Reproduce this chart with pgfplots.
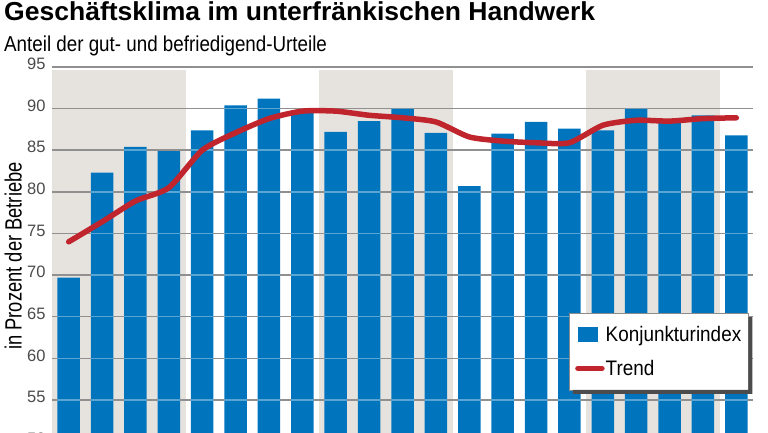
\documentclass[border=0pt]{standalone}
\usepackage{fontspec}
\setmainfont{Liberation Sans}
\usepackage{pgfplots}
\pgfplotsset{compat=1.18}

\definecolor{barblue}{RGB}{0,117,190}
\definecolor{trendred}{RGB}{192,36,44}
\definecolor{band}{RGB}{230,227,222}
\definecolor{gridgray}{RGB}{86,86,86}
\definecolor{ticktext}{RGB}{75,75,75}

% alle drei Achsen liegen genau uebereinander
\pgfplotsset{
  frame/.style={
    at={(52pt,-9.6pt)}, anchor=south west,
    scale only axis, width=701pt, height=374.6pt,
    xmin=0.5, xmax=21.5, ymin=50, ymax=95,
    axis line style={draw=none}, major tick length=0pt,
    xtick=\empty, ytick={50,55,...,95},
  },
}

\begin{document}
\begin{tikzpicture}
\useasboundingbox (0,0) rectangle (768pt,432pt);
\clip (0,0) rectangle (768pt,432pt);

% graue Jahresbaender
\begin{axis}[frame, yticklabels={}]
\addplot[fill=band, draw=none] coordinates {(0.5,50) (0.5,94.64) (4.5,94.64) (4.5,50)} -- cycle;
\addplot[fill=band, draw=none] coordinates {(8.5,50) (8.5,94.64) (12.5,94.64) (12.5,50)} -- cycle;
\addplot[fill=band, draw=none] coordinates {(16.5,50) (16.5,94.64) (20.5,94.64) (20.5,50)} -- cycle;
\end{axis}

% Balken mit grauem Gitter darunter
\begin{axis}[frame, ybar, bar width=22.5pt,
  ymajorgrids, grid style={gridgray, line width=1.5pt},
  /pgf/number format/assume math mode=true,
  yticklabel style={font=\fontsize{16.5}{17}\selectfont, color=ticktext, xshift=-3pt, yshift=3pt}]
\addplot[fill=barblue, draw=none] coordinates {
  (1,69.7) (2,82.3) (3,85.4) (4,84.9) (5,87.4) (6,90.4) (7,91.2)
  (8,89.8) (9,87.2) (10,88.5) (11,90.0) (12,87.1) (13,80.7) (14,87.0)
  (15,88.4) (16,87.6) (17,87.4) (18,90.0) (19,88.3) (20,89.2) (21,86.8)
};
\end{axis}

% helles Gitter ueber den Balken, Trendlinie, Legende
\begin{axis}[frame, yticklabels={},
  ymajorgrids, grid style={white, opacity=0.35, line width=1.5pt},
  legend style={name=leg, at={(0.7375,0.343)}, anchor=north west,
    draw=black!45, fill=white, inner xsep=6pt, inner ysep=12pt,
    nodes={inner sep=1pt},
    font=\fontsize{21}{23}\selectfont, row sep=15pt,
    legend cell align=left,
    /tikz/every even column/.append style={column sep=2pt}}]
\addlegendimage{legend image code/.code={\fill[barblue] (0pt,-7pt) rectangle (19pt,7pt);}}
\addlegendentry{\scalebox{0.9}[1]{Konjunkturindex}}
\addplot[trendred, line width=5.5pt, smooth, tension=0.4, line cap=round, line join=round,
  legend image code/.code={\draw[trendred, line width=5.5pt, line cap=round] (0pt,0pt) -- (24pt,0pt);}]
  coordinates {
  (1,74.0) (2,76.4) (3,78.9) (4,80.5) (5,85.0) (6,87.1) (7,88.8)
  (8,89.7) (9,89.7) (10,89.2) (11,88.9) (12,88.4) (13,86.6) (14,86.1)
  (15,85.9) (16,85.9) (17,88.0) (18,88.6) (19,88.5) (20,88.8) (21,88.9)
};
\addlegendentry{\scalebox{0.9}[1]{Trend}}
\end{axis}

% Schatten der Legende rechts und unten
\fill[black!70] ([yshift=-4pt]leg.north east) -- ([xshift=4pt,yshift=-4pt]leg.north east)
  -- ([xshift=4pt,yshift=-4pt]leg.south east) -- ([xshift=4pt,yshift=-4pt]leg.south west)
  -- ([xshift=4pt]leg.south west) -- (leg.south east) -- cycle;

\node[anchor=base west, inner sep=0pt] at (4pt,411pt)
  {\fontsize{26}{30}\selectfont\bfseries\scalebox{1.02}[1]{Geschäftsklima im unterfränkischen Handwerk}};
\node[anchor=base west, inner sep=0pt] at (4pt,380pt)
  {\fontsize{21.6}{24}\selectfont\scalebox{0.87}[1]{Anteil der gut- und befriedigend-Urteile}};
\node[anchor=base, rotate=90, inner sep=0pt] at (21.5pt,176pt)
  {\fontsize{23.5}{26}\selectfont\scalebox{0.78}[1]{in Prozent der Betriebe}};
\end{tikzpicture}
\end{document}
